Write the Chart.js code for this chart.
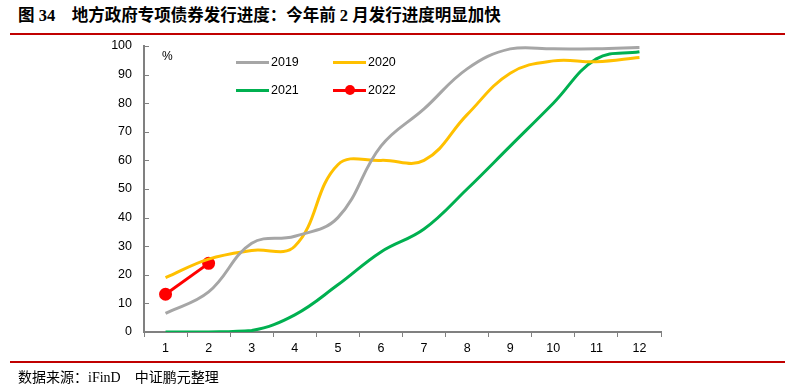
<!DOCTYPE html>
<html>
<head>
<meta charset="utf-8">
<script src="https://cdn.jsdelivr.net/npm/chart.js@4"></script>
<style>
  body { margin: 0; width: 793px; height: 388px; background: #fff; position: relative; overflow: hidden; }
  #title { position: absolute; left: 18px; top: 2px; font: bold 16.5px "Liberation Serif", "Noto Sans CJK SC"; color: #000; white-space: pre; }
  .rule { position: absolute; left: 10px; width: 775px; height: 2px; background: #C00000; }
  #source { position: absolute; left: 18px; top: 366px; font: 14px "Liberation Serif", "Noto Sans CJK SC"; color: #000; white-space: pre; }
  #wrap { position: absolute; left: 0; top: 0; width: 793px; height: 388px; }
  .lg { position: absolute; font: 12.5px "Liberation Sans", Arial; color: #000; display: flex; align-items: center; }
  .lg i { display: inline-block; width: 33px; height: 3px; margin-right: 2px; position: relative; }
  .lg i b { position: absolute; left: 12px; top: -3.5px; width: 10px; height: 10px; border-radius: 50%; background: #FF0000; }
</style>
</head>
<body>
<div id="title">图 34    地方政府专项债券发行进度：今年前 2 月发行进度明显加快</div>
<div class="rule" style="top:33px"></div>
<div id="wrap"><canvas id="c" width="793" height="388"></canvas></div>
<div class="rule" style="top:361px"></div>
<div id="source">数据来源：iFinD    中证鹏元整理</div>
<div class="lg" style="left:236px;top:55px"><i style="background:#A6A6A6"></i>2019</div>
<div class="lg" style="left:333px;top:55px"><i style="background:#FFC000"></i>2020</div>
<div class="lg" style="left:236px;top:83px"><i style="background:#00B050"></i>2021</div>
<div class="lg" style="left:333px;top:83px"><i style="background:#FF0000"><b></b></i>2022</div>
<script>
const months = ["1", "2", "3", "4", "5", "6", "7", "8", "9", "10", "11", "12"];
const y2019 = [6.5, 14, 31, 33.5, 40, 65, 78, 92, 99, 99, 99, 99.5];
const y2020 = [19, 25.5, 28.5, 30, 58.5, 60, 60, 76, 90.5, 94.8, 94.5, 96];
const y2021 = [0, 0, 0.5, 6, 16.5, 28, 36, 50, 65, 80, 95.5, 98];
const y2022 = [13.2, 24];

const axisColor = "#808080";
const tickFont = { family: "'Liberation Sans', Arial", size: 12.5 };

// y 轴刻度线画在轴内侧
const innerTicks = {
  id: "innerTicks",
  afterDraw(chart) {
    const ctx = chart.ctx;
    const y = chart.scales.y;
    ctx.save();
    ctx.strokeStyle = axisColor;
    ctx.lineWidth = 1;
    y.ticks.forEach(t => {
      const py = Math.round(y.getPixelForValue(t.value)) + 0.5;
      ctx.beginPath();
      ctx.moveTo(y.right, py);
      ctx.lineTo(y.right + 5, py);
      ctx.stroke();
    });
    ctx.fillStyle = "#000";
    ctx.font = "12px 'Liberation Sans', Arial";
    ctx.fillText("%", y.right + 18, y.getPixelForValue(95));
    ctx.restore();
  }
};

const lineDs = (label, data, color) => ({
  label, data,
  borderColor: color,
  backgroundColor: color,
  borderWidth: 3,
  pointRadius: 0,
  tension: 0.4,
  fill: false
});

new Chart(document.getElementById("c"), {
  type: "line",
  data: {
    labels: months,
    datasets: [
      lineDs("2019", y2019, "#A6A6A6"),
      lineDs("2020", y2020, "#FFC000"),
      lineDs("2021", y2021, "#00B050"),
      Object.assign(lineDs("2022", y2022, "#FF0000"), { pointRadius: 5, tension: 0 })
    ]
  },
  options: {
    responsive: false,
    animation: false,
    events: [],
    layout: { padding: { left: 0, right: 132, top: 46, bottom: 0 } },
    plugins: { legend: { display: false }, tooltip: { enabled: false } },
    scales: {
      x: {
        offset: true,
        grid: { offset: true, drawOnChartArea: false, drawTicks: true, tickLength: 5, color: axisColor },
        border: { color: axisColor, width: 2 },
        ticks: { color: "#000", font: tickFont, padding: 4, maxRotation: 0 },
        afterFit: s => { s.height = 56; }
      },
      y: {
        min: 0, max: 100,
        grid: { drawOnChartArea: false, drawTicks: false },
        border: { color: axisColor, width: 2 },
        ticks: { stepSize: 10, color: "#000", font: tickFont, padding: 12 },
        afterFit: s => { s.width = 144; }
      }
    }
  },
  plugins: [innerTicks]
});
</script>
</body>
</html>
